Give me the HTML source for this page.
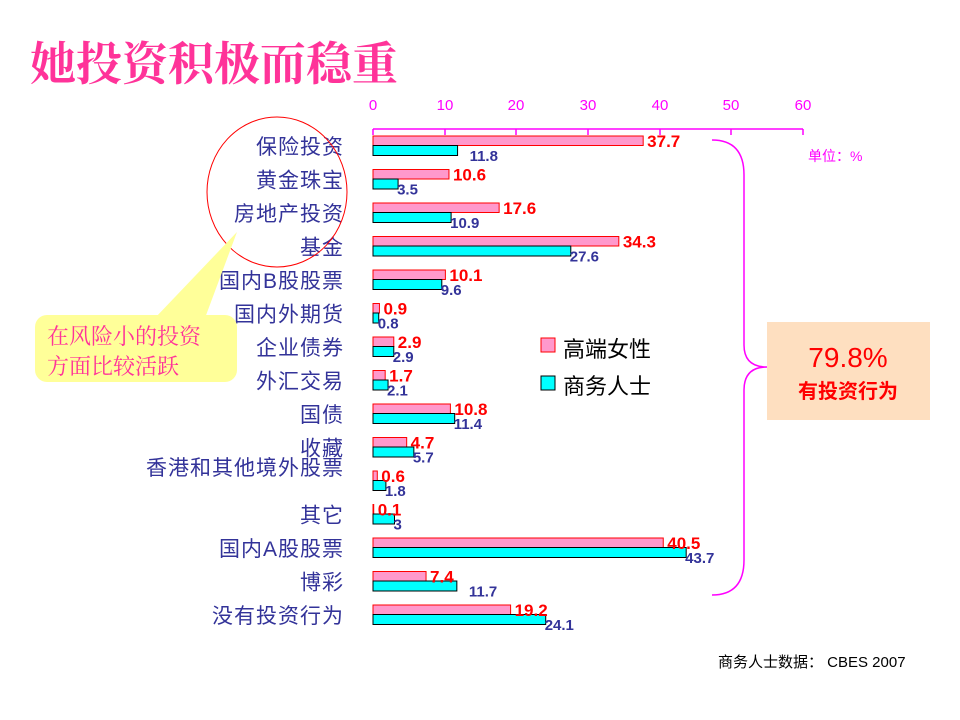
<!DOCTYPE html>
<html><head><meta charset="utf-8"><style>
body{margin:0;background:#fff;}
svg{display:block;font-family:"Liberation Sans","Noto Sans CJK SC",sans-serif;}
</style></head><body>
<svg width="960" height="720" xmlns="http://www.w3.org/2000/svg">
<text x="30" y="80" font-size="46" fill="#FF3399" font-family="'Noto Serif CJK SC',serif" font-weight="bold">她投资积极而稳重</text>
<g fill="#FF00FF" font-size="15" text-anchor="middle">
<text x="373" y="110">0</text><text x="445" y="110">10</text><text x="516" y="110">20</text><text x="588" y="110">30</text><text x="660" y="110">40</text><text x="731" y="110">50</text><text x="803" y="110">60</text>
</g>
<g stroke="#FF00FF" stroke-width="1.5">
<line x1="373" y1="129" x2="803" y2="129"/>
<line x1="373" y1="129" x2="373" y2="135"/><line x1="445" y1="129" x2="445" y2="135"/><line x1="516" y1="129" x2="516" y2="135"/><line x1="588" y1="129" x2="588" y2="135"/><line x1="660" y1="129" x2="660" y2="135"/><line x1="731" y1="129" x2="731" y2="135"/><line x1="803" y1="129" x2="803" y2="135"/>
</g>
<text x="808" y="161" font-size="14" fill="#FF00FF">单位：%</text>
<g id="bars"></g>
<ellipse cx="277" cy="192" rx="70" ry="75" fill="none" stroke="#FF0000" stroke-width="1"/>
<polygon points="155,318 205,318 237,232" fill="#FFFF99"/>
<rect x="35" y="315" width="202" height="67" rx="12" fill="#FFFF99"/>
<g fill="#FF3399" font-size="22" font-family="'Noto Serif CJK SC',serif">
<text x="47" y="344">在风险小的投资</text><text x="47" y="374">方面比较活跃</text>
</g>
<rect x="541" y="338" width="14" height="14" fill="#FF99CC" stroke="#FF0000"/>
<rect x="541" y="376" width="14" height="14" fill="#00FFFF" stroke="#000"/>
<text x="563" y="357" font-size="22" fill="#000">高端女性</text>
<text x="563" y="394" font-size="22" fill="#000">商务人士</text>
<path d="M712,140 Q744,140 744,175 L744,345 Q744,367 767,367 Q744,367 744,390 L744,560 Q744,595 712,595" fill="none" stroke="#FF00FF" stroke-width="1.5"/>
<rect x="767" y="322" width="163" height="98" fill="#FEDFC0"/>
<text x="848" y="367" font-size="28" fill="#FF0000" text-anchor="middle">79.8%</text>
<text x="848" y="398" font-size="20" fill="#FF0000" text-anchor="middle" font-weight="bold">有投资行为</text>
<text x="718" y="667" font-size="15" fill="#000">商务人士数据： CBES 2007</text>
</svg>
<script>
var d=[["保险投资",37.7,11.8],["黄金珠宝",10.6,3.5],["房地产投资",17.6,10.9],["基金",34.3,27.6],["国内B股股票",10.1,9.6],["国内外期货",0.9,0.8],["企业债券",2.9,2.9],["外汇交易",1.7,2.1],["国债",10.8,11.4],["收藏",4.7,5.7],["香港和其他境外股票",0.6,1.8],["其它",0.1,3],["国内A股股票",40.5,43.7],["博彩",7.4,11.7],["没有投资行为",19.2,24.1]];
var s=430/60,h='',ns='http://www.w3.org/2000/svg';
d.forEach(function(r,i){var t=136+33.5*i,p=r[1]*s,c=r[2]*s;
h+='<rect x="373" y="'+t+'" width="'+p+'" height="9.5" fill="#FF99CC" stroke="#FF0000"/>';
h+='<rect x="373" y="'+(t+9.5)+'" width="'+c+'" height="10" fill="#00FFFF" stroke="#000"/>';
h+='<text x="'+(373+p+4)+'" y="'+(t+11)+'" font-size="17" font-weight="bold" fill="#FF0000">'+r[1]+'</text>';
var bx=373+c+(r[2]==11.8||r[2]==11.7?12:-1);
h+='<text x="'+bx+'" y="'+(t+25)+'" font-size="15" font-weight="bold" fill="#333399">'+r[2]+'</text>';
var ly=(i==10)?t+4:t+18;
h+='<text x="344" y="'+ly+'" font-size="21" letter-spacing="1" fill="#333399" text-anchor="end">'+r[0]+'</text>';});
var g=document.getElementById('bars');var tmp=new DOMParser().parseFromString('<svg xmlns="'+ns+'">'+h+'</svg>','image/svg+xml');
Array.prototype.slice.call(tmp.documentElement.childNodes).forEach(function(n){g.appendChild(document.importNode(n,true));});
</script>
</body></html>
